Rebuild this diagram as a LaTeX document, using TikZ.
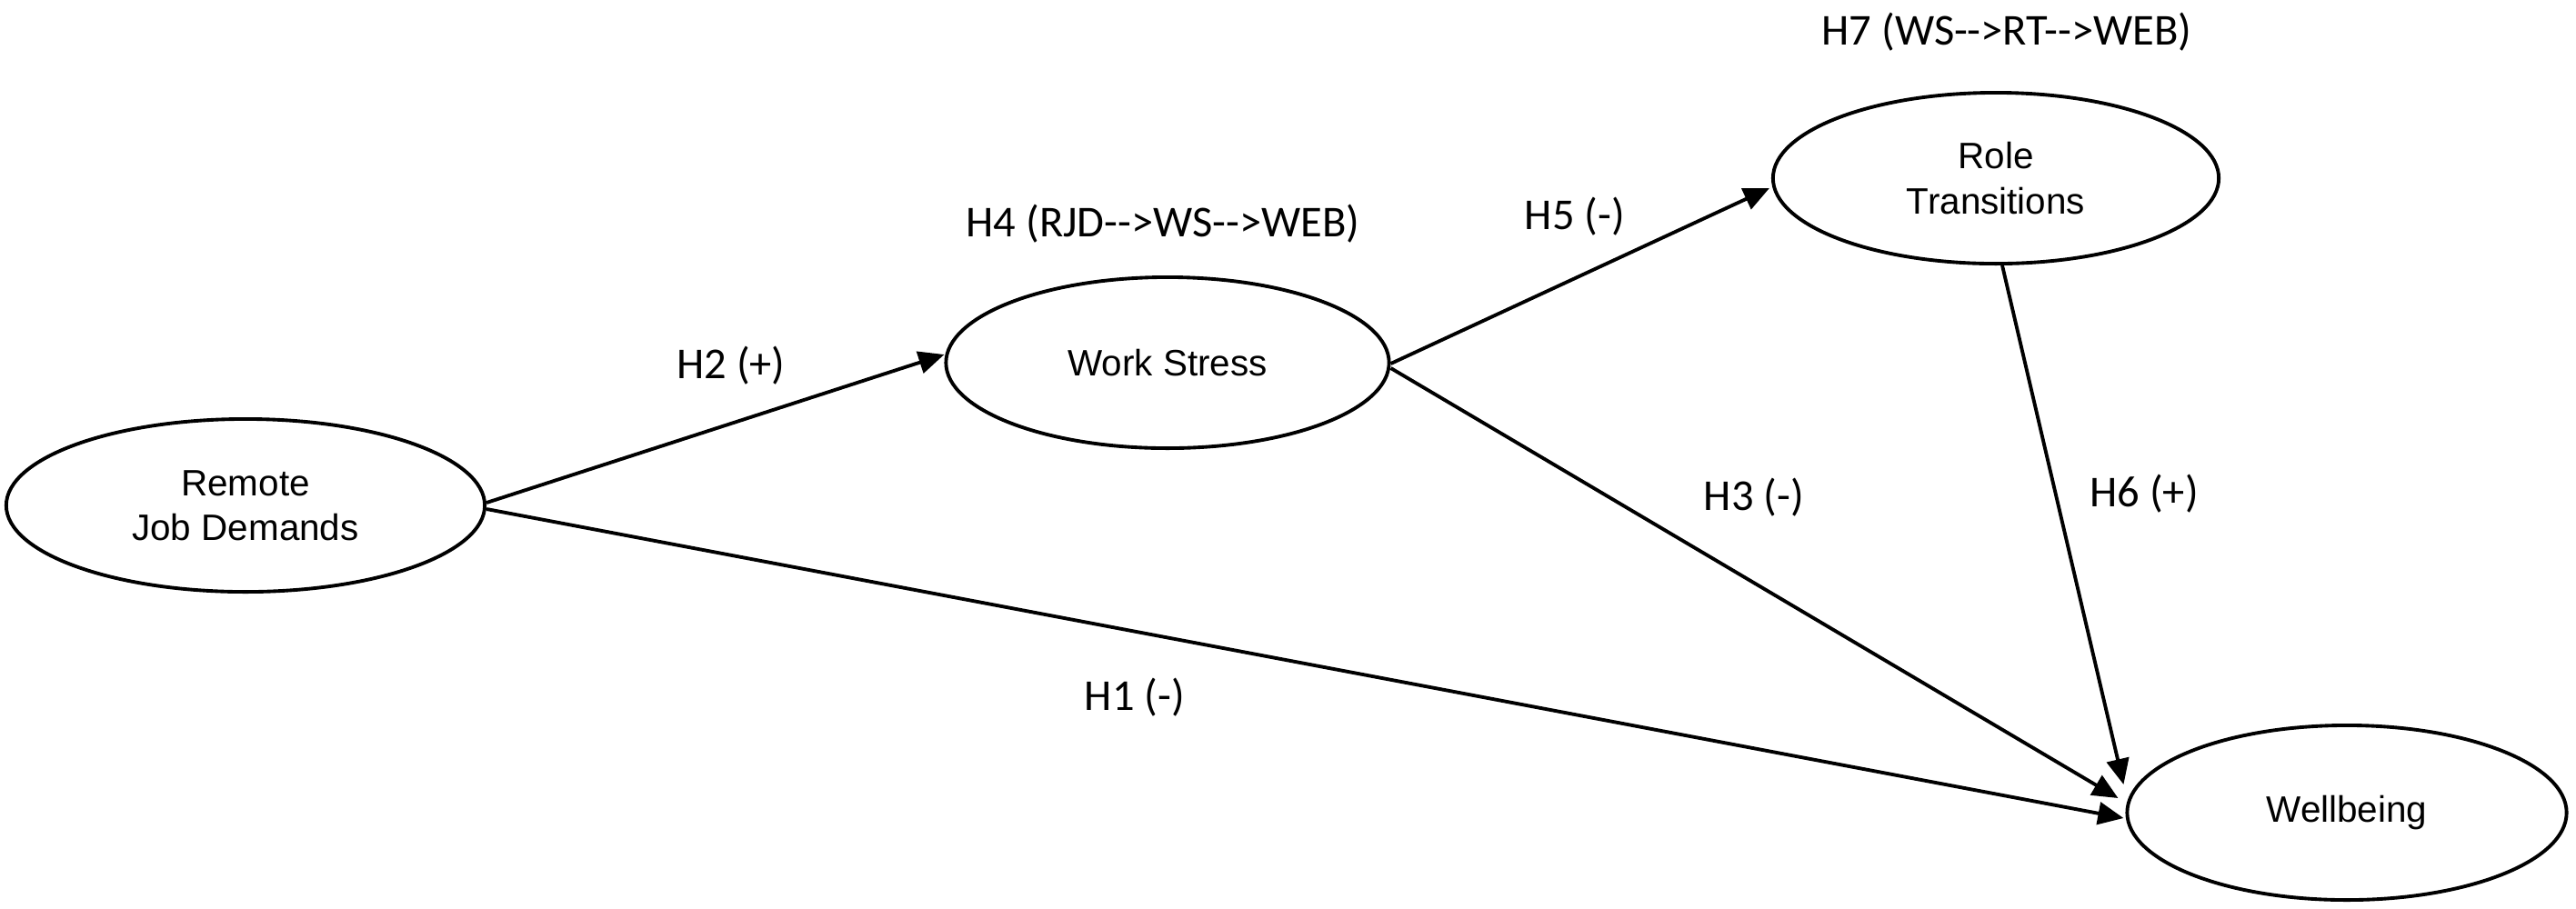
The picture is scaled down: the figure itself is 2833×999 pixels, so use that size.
\documentclass[tikz,border=0pt]{standalone}
\usepackage{fontspec}
\setmainfont{Liberation Sans}
\newfontfamily\labfont{Carlito}
\usetikzlibrary{shapes.geometric,arrows.meta,calc}
\begin{document}
\begin{tikzpicture}[x=0.01cm,y=-0.01cm,
  construct/.style={ellipse, draw, line width=1.1pt, inner sep=0pt, align=center,
    font=\fontsize{11.5}{14}\selectfont},
  hlabel/.style={font=\labfont\fontsize{13.8}{16}\selectfont, inner sep=0pt},
  link/.style={line width=1.1pt, -{Triangle[length=8pt,width=7pt]}}]
\useasboundingbox (0,0) rectangle (2833,999);
\node[construct, minimum width=5.26cm, minimum height=1.90cm] (rjd) at (270,556) {Remote\\Job Demands};
\node[construct, minimum width=4.87cm, minimum height=1.88cm] (ws) at (1284,399) {Work Stress};
\node[construct, minimum width=4.90cm, minimum height=1.88cm] (rt) at (2195,196) {Role\\Transitions};
\node[construct, minimum width=4.83cm, minimum height=1.92cm] (wb) at (2581,894) {Wellbeing};

\coordinate (s1) at ($(rjd.east)+(0,-3)$);
\coordinate (s2) at ($(rjd.east)+(0,4)$);
\coordinate (e1) at ($(ws.west)+(0,-9)$);
\coordinate (s3) at ($(ws.east)+(0,1)$);
\coordinate (s4) at ($(ws.east)+(0,6)$);
\coordinate (e2) at ($(rt.west)+(-2,11)$);
\coordinate (s5) at ($(rt.south)+(7,0)$);
\coordinate (w1) at ($(wb.west)+(-2,-31)$);
\coordinate (w2) at ($(wb.west)+(-8,-16)$);
\coordinate (w3) at ($(wb.west)+(-2,6)$);

\draw[link] (s1) -- (e1);
\draw[link] (s2) -- (w3);
\draw[link] (s3) -- (e2);
\draw[link] (s4) -- (w2);
\draw[link] (s5) -- (w1);

\node[hlabel] (h4) at (1279,246) {H4 (RJD-->WS-->WEB)};
\node[hlabel] (h7) at (2207,35) {H7 (WS-->RT-->WEB)};
\node[hlabel] (h2) at (804,402) {H2 (+)};
\node[hlabel] (h5) at (1732,238) {H5 (-)};
\node[hlabel] (h3) at (1929,547) {H3 (-)};
\node[hlabel] (h6) at (2358,543) {H6 (+)};
\node[hlabel] (h1) at (1248,767) {H1 (-)};
\end{tikzpicture}
\end{document}
